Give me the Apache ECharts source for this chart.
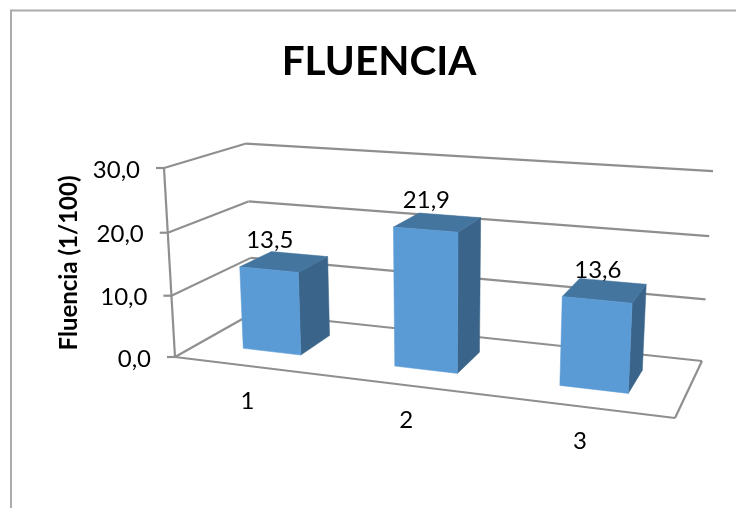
<!DOCTYPE html>
<html>
<head>
<meta charset="utf-8">
<style>html,body{margin:0;padding:0;background:#fff}#chart{width:736px;height:508px}</style>
<script src="https://cdn.jsdelivr.net/npm/echarts@6/dist/echarts.min.js"></script>
</head>
<body>
<div id="chart"></div>
<script>
// Chart content
const titleText = 'FLUENCIA';
const valueAxisName = 'Fluencia (1/100)';
const categories = ['1', '2', '3'];
const fluencia = [13.5, 21.9, 13.6];
const valueTicks = [0, 10, 20, 30];

const FONT = 'Lato, "Open Sans", sans-serif';
const GRID_COLOR = '#8f8f8f';
const FRONT = '#5b9bd5', SIDE = '#3a6489', TOP = '#44759f';

// Perspective box: screen position of the origin and of the far end of each unit axis
const O = [175, 357], U = [675, 418], V = [164, 168], W = [253, 313];
const D = [-0.126, -0.04, 0.1212];
const axisEnds = [U, V, W];
const A = axisEnds.map((p, i) => [p[0] * (1 + D[i]) - O[0], p[1] * (1 + D[i]) - O[1]]);

function project(u, v, w) {
  const n = 1 + D[0] * u + D[1] * v + D[2] * w;
  return [
    (O[0] + A[0][0] * u + A[1][0] * v + A[2][0] * w) / n,
    (O[1] + A[0][1] * u + A[1][1] * v + A[2][1] * w) / n
  ];
}

// Converts a value on the chart's axes into unit box coordinates
function unitCoords(params, api, cat, val) {
  const cs = params.coordSys;
  const pt = api.coord([cat, val]);
  return [(pt[0] - cs.x) / cs.width, (cs.y + cs.height - pt[1]) / cs.height];
}

const line = (a, b, extra) => ({
  type: 'line',
  shape: { x1: a[0], y1: a[1], x2: b[0], y2: b[1] },
  style: Object.assign({ stroke: GRID_COLOR, lineWidth: 2.2 }, extra),
  silent: true
});
const poly = (pts, fill) => ({
  type: 'polygon',
  shape: { points: pts },
  style: { fill: fill, stroke: fill, lineWidth: 0.5 },
  silent: true
});
const label = (x, y, text, align) => ({
  type: 'text',
  x: x, y: y,
  style: { text: text, fill: '#000', font: '24px ' + FONT, align: align || 'center', verticalAlign: 'middle' },
  silent: true
});
const fmt = (v) => v.toFixed(1).replace('.', ',');

// Walls: each tick runs along the left wall and then the back wall
function renderWalls(params, api) {
  const val = api.value(1);
  const v = unitCoords(params, api, 0, val)[1];
  const front = project(0, v, 0), back = project(0, v, 1), right = project(1, v, 1);
  const children = [
    line([front[0] - 8, front[1]], front),
    line(front, back),
    line(back, right),
    label(front[0] - 24, front[1] + 2, fmt(val), 'right')
  ];
  if (params.dataIndex === 0) {
    children.push(line(project(0, 0, 0), project(0, 1, 0)));
    children.push(line(project(0, 0, 0), project(1, 0, 0)));
    children.push(line(project(1, 0, 0), project(1, 0, 1)));
  }
  return { type: 'group', children: children };
}

const BAR_WIDTH = 0.13, W0 = 0.29, W1 = 0.71;

function renderBars(params, api) {
  const idx = api.value(0), val = api.value(1);
  const [uc, v] = unitCoords(params, api, idx, val);
  const u0 = uc - BAR_WIDTH / 2, u1 = uc + BAR_WIDTH / 2;
  const p = (u, vv, w) => project(u, vv, w);
  const lab = p(uc, v, W0);
  return {
    type: 'group',
    children: [
      poly([p(u1, 0, W0), p(u1, 0, W1), p(u1, v, W1), p(u1, v, W0)], SIDE),
      poly([p(u0, v, W0), p(u1, v, W0), p(u1, v, W1), p(u0, v, W1)], TOP),
      poly([p(u0, 0, W0), p(u1, 0, W0), p(u1, v, W0), p(u0, v, W0)], FRONT),
      label(lab[0] + 1, lab[1] - 29.5, fmt(val))
    ]
  };
}

function renderCategory(params, api) {
  const idx = api.value(0);
  const u = unitCoords(params, api, idx, 0)[0];
  const p = project(u, 0, 0);
  return label(p[0] - 2, p[1] + 35, categories[idx]);
}

const chart = echarts.init(document.getElementById('chart'), null, { renderer: 'canvas' });
chart.setOption({
  animation: false,
  backgroundColor: '#fff',
  title: {
    text: titleText,
    left: 374, top: 36, textAlign: 'center',
    textStyle: { fontFamily: FONT, fontWeight: 'bold', fontSize: 40.5, color: '#000' }
  },
  graphic: [
    { type: 'polyline', silent: true, shape: { points: [[11, 508], [11, 10.5], [736, 10.5]] },
      style: { fill: 'none', stroke: '#ababab', lineWidth: 2 } },
    { type: 'text', silent: true, x: 69, y: 263, rotation: Math.PI / 2,
      style: { text: valueAxisName, fill: '#000', font: 'bold 24px ' + FONT, align: 'center', verticalAlign: 'middle' } }
  ],
  grid: { left: 100, right: 100, top: 100, bottom: 100 },
  xAxis: { type: 'category', data: categories, show: false },
  yAxis: { type: 'value', min: 0, max: 30, interval: 10, show: false },
  series: [
    { type: 'custom', silent: true, z: 1, renderItem: renderWalls,
      data: valueTicks.map((t) => [0, t]) },
    { type: 'custom', silent: true, z: 2, renderItem: renderBars,
      data: fluencia.map((f, i) => [i, f]) },
    { type: 'custom', silent: true, z: 3, renderItem: renderCategory,
      data: categories.map((c, i) => [i, 0]) }
  ]
});
</script>
</body>
</html>
